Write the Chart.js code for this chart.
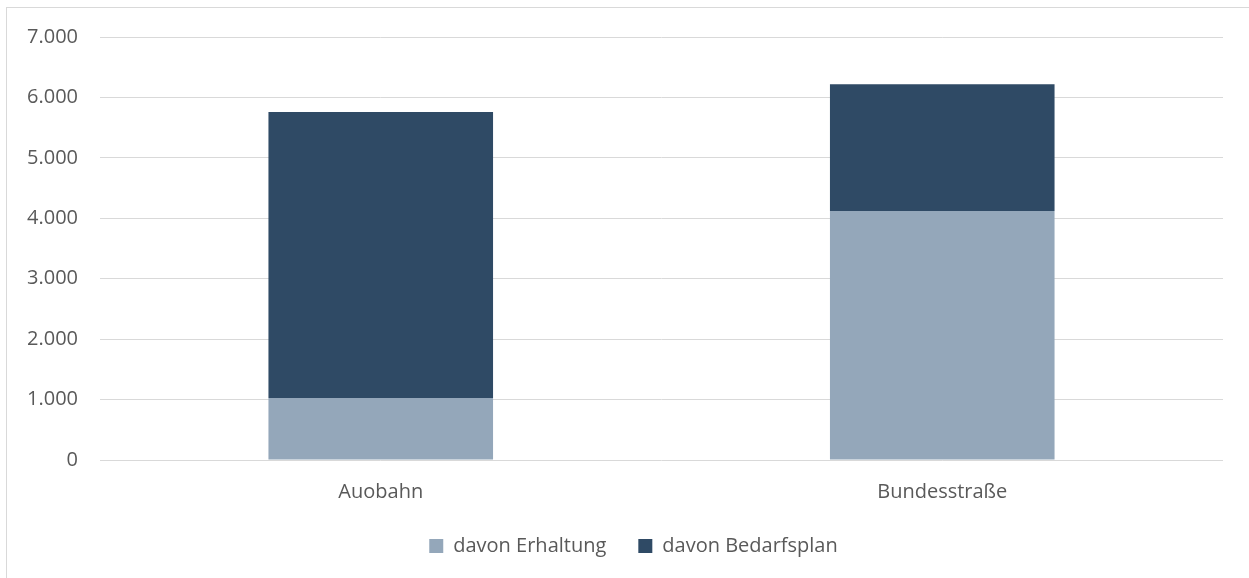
<!DOCTYPE html>
<html><head><meta charset="utf-8">
<script src="https://cdn.jsdelivr.net/npm/chart.js@4"></script>
<style>
html,body{margin:0;padding:0;background:#fff;overflow:hidden}
#frame{position:absolute;left:6px;top:7px;width:1260px;height:600px;border:1px solid #d9d9d9;box-sizing:border-box}
#wrap{position:absolute;left:0;top:0;width:1249px;height:578px}
</style></head><body>
<div id="frame"></div>
<div id="wrap"><canvas id="c" width="1249" height="578"></canvas></div>
<script>
const categories = ["Auobahn", "Bundesstraße"];
const erhaltung = [1025, 4120];
const bedarfsplan = [4735, 2100];
const seriesNames = ["davon Erhaltung", "davon Bedarfsplan"];
const yTicks = [0, 1000, 2000, 3000, 4000, 5000, 6000, 7000];

function fmt(v){ return String(v).replace(/\B(?=(\d{3})+(?!\d))/g, "."); }

Chart.defaults.font.family = "'Open Sans', 'Noto Sans', sans-serif";
Chart.defaults.color = "#595959";

const shiftLegend = {
  id: 'shiftLegend',
  afterLayout(c) {
    const l = c.legend;
    if (!l) return;
    l.left += 22; l.right += 22;
    l.top -= 12; l.bottom -= 12;
  }
};

const chart = new Chart(document.getElementById('c'), {
  type: 'bar',
  data: {
    labels: categories,
    datasets: [
      {label: seriesNames[0], data: erhaltung, backgroundColor: '#94A7BA', barPercentage: 0.4, categoryPercentage: 1.0},
      {label: seriesNames[1], data: bedarfsplan, backgroundColor: '#2F4A65', barPercentage: 0.4, categoryPercentage: 1.0}
    ]
  },
  plugins: [shiftLegend],
  options: {
    responsive: false,
    animation: false,
    layout: {padding: {left: 0, right: 26, top: 37, bottom: 0}},
    plugins: {
      tooltip: {enabled: false},
      legend: {
        position: 'bottom',
        labels: {boxWidth: 14, boxHeight: 14, padding: 32, font: {size: 20}, color: '#595959'}
      }
    },
    scales: {
      x: {
        stacked: true,
        grid: {display: false},
        border: {display: false},
        ticks: {font: {size: 20}, color: '#595959', padding: 12, autoSkip: false, maxRotation: 0}
      },
      y: {
        stacked: true,
        min: 0, max: 7000,
        afterBuildTicks: (s) => { s.ticks = yTicks.map(v => ({value: v})); },
        afterFit: (s) => { s.width = 100; },
        grid: {color: '#d9d9d9', lineWidth: 1, drawTicks: false},
        border: {display: false},
        ticks: {font: {size: 20}, color: '#595959', padding: 22, callback: (v) => fmt(v)}
      }
    }
  }
});
const lg = chart.legend;
const origFit = lg.fit;
lg.fit = function(){ origFit.call(this); this.height = 62; };
chart.update();
</script>
</body></html>
